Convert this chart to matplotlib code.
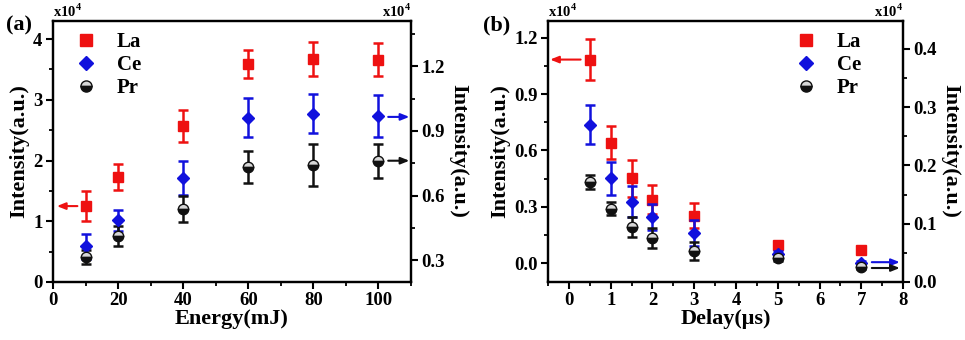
import matplotlib

matplotlib.use("Agg")
import matplotlib.pyplot as plt
from matplotlib.lines import Line2D
from matplotlib.ticker import FormatStrFormatter, MultipleLocator

# ---------------------------------------------------------------------------
# data: (a) intensity vs laser energy, (b) intensity vs delay
# La on the left axis, Ce / Pr on the right axis (both x10^4)
# ---------------------------------------------------------------------------
energy = [10, 20, 40, 60, 80, 100]
la_energy = [1.25, 1.73, 2.57, 3.59, 3.67, 3.66]
la_energy_err = [0.245, 0.22, 0.27, 0.23, 0.28, 0.27]
ce_energy = [0.365, 0.485, 0.68, 0.962, 0.98, 0.969]
ce_energy_err = [0.058, 0.048, 0.079, 0.091, 0.089, 0.098]
pr_energy = [0.315, 0.415, 0.538, 0.731, 0.742, 0.762]
pr_energy_err = [0.032, 0.046, 0.062, 0.074, 0.096, 0.079]

delay = [0.5, 1, 1.5, 2, 3, 5, 7]
la_delay = [1.084, 0.642, 0.451, 0.339, 0.253, 0.098, 0.068]
la_delay_err = [0.107, 0.089, 0.10, 0.075, 0.065, 0.015, 0.01]
ce_delay = [0.27, 0.178, 0.138, 0.112, 0.084, 0.048, 0.032]
ce_delay_err = [0.033, 0.028, 0.026, 0.022, 0.022, 0.006, 0.004]
pr_delay = [0.172, 0.126, 0.095, 0.076, 0.053, 0.042, 0.026]
pr_delay_err = [0.012, 0.011, 0.017, 0.017, 0.015, 0.006, 0.003]

labels = ["La", "Ce", "Pr"]

plt.rcParams["font.family"] = ["Liberation Serif", "DejaVu Serif"]
plt.rcParams["font.weight"] = "bold"
plt.rcParams["axes.labelweight"] = "bold"
plt.rcParams["mathtext.fontset"] = "custom"
plt.rcParams["mathtext.rm"] = "Liberation Serif:bold"
plt.rcParams["mathtext.bf"] = "Liberation Serif:bold"

RED = "#ee1111"
BLUE = "#1111dd"
BLACK = "#111111"

fig = plt.figure(figsize=(9.65, 3.4), dpi=100)
ax_a = fig.add_axes([0.0549, 0.1706, 0.371, 0.768])
ax_b = fig.add_axes([0.5679, 0.1706, 0.368, 0.768])


def style_axis(ax):
    for s in ax.spines.values():
        s.set_linewidth(1.6)
    ax.tick_params(which="major", direction="out", length=5, width=1.5, labelsize=13.5,
                   pad=2.5)
    ax.tick_params(which="minor", direction="out", length=3, width=1.3)
    ax.tick_params(top=False)


def draw(ax, ax2, x, la, la_err, ce, ce_err, pr, pr_err):
    ebkw = dict(linestyle="none", capsize=3.5, elinewidth=1.8, capthick=1.8, markersize=7.5)
    ax.errorbar(x, la, yerr=la_err, marker="s", color=RED, zorder=3, **ebkw)
    ax2.errorbar(x, ce, yerr=ce_err, marker="D", color=BLUE, markersize=6.5,
                 linestyle="none", capsize=3.5, elinewidth=1.8, capthick=1.8)
    ax2.errorbar(x, pr, yerr=pr_err, marker="o", color=BLACK, mec=BLACK,
                 fillstyle="top", mfc="#d8d8d8", mfcalt=BLACK, **ebkw)


def legend_handles():
    return [
        Line2D([], [], marker="s", color=RED, linestyle="none", markersize=8),
        Line2D([], [], marker="D", color=BLUE, linestyle="none", markersize=7),
        Line2D([], [], marker="o", color=BLACK, mec=BLACK, linestyle="none",
               fillstyle="top", mfc="#d8d8d8", mfcalt=BLACK, markersize=8),
    ]


def arrow(ax, x0, x1, y, color):
    ax.annotate("", xy=(x1, y), xytext=(x0, y),
                arrowprops=dict(arrowstyle="-|>,head_length=0.5,head_width=0.2",
                                color=color, lw=1.5, shrinkA=0, shrinkB=0))


# ---------------------------- panel (a) ----------------------------
ax_a2 = ax_a.twinx()
draw(ax_a, ax_a2, energy, la_energy, la_energy_err, ce_energy, ce_energy_err,
     pr_energy, pr_energy_err)
ax_a.set_xlim(0, 110)
ax_a.set_ylim(0, 4.3)
ax_a2.set_ylim(0.2, 1.41)
ax_a.xaxis.set_major_locator(MultipleLocator(20))
ax_a.xaxis.set_minor_locator(MultipleLocator(10))
ax_a.yaxis.set_major_locator(MultipleLocator(1))
ax_a.yaxis.set_minor_locator(MultipleLocator(0.5))
ax_a2.yaxis.set_major_locator(MultipleLocator(0.3))
ax_a2.yaxis.set_minor_locator(MultipleLocator(0.15))
for a in (ax_a, ax_a2):
    style_axis(a)
ax_a.set_xlabel("Energy(mJ)", fontsize=16, labelpad=0)
ax_a.set_ylabel("Intensity(a.u.)", fontsize=16, labelpad=3)
ax_a2.set_ylabel("Intensity(a.u.)", fontsize=16, rotation=270, labelpad=17)
arrow(ax_a, 7.5, 1.2, 1.25, RED)
arrow(ax_a2, 103, 109.5, 0.965, BLUE)
arrow(ax_a2, 103, 109.5, 0.762, BLACK)
ax_a.legend(legend_handles(), labels, loc="upper left", frameon=False,
            fontsize=15, handlelength=1.0, handletextpad=1.0, labelspacing=0.15,
            bbox_to_anchor=(0.01, 1.03))
ax_a.text(0.0, 1.005, "x10$^{\\mathbf{4}}$", transform=ax_a.transAxes, fontsize=10.5,
          ha="left", va="bottom")
ax_a.text(1.0, 1.005, "x10$^{\\mathbf{4}}$", transform=ax_a.transAxes, fontsize=10.5,
          ha="right", va="bottom")
fig.text(0.006, 0.91, "(a)", fontsize=16, fontweight="bold")

# ---------------------------- panel (b) ----------------------------
ax_b2 = ax_b.twinx()
draw(ax_b, ax_b2, delay, la_delay, la_delay_err, ce_delay, ce_delay_err,
     pr_delay, pr_delay_err)
ax_b.set_xlim(-0.5, 8)
ax_b.set_ylim(-0.1, 1.29)
ax_b2.set_ylim(0.0, 0.448)
ax_b.xaxis.set_major_locator(MultipleLocator(1))
ax_b.xaxis.set_minor_locator(MultipleLocator(0.5))
ax_b.yaxis.set_major_locator(MultipleLocator(0.3))
ax_b.yaxis.set_minor_locator(MultipleLocator(0.15))
ax_b2.yaxis.set_major_locator(MultipleLocator(0.1))
ax_b2.yaxis.set_minor_locator(MultipleLocator(0.05))
ax_b.yaxis.set_major_formatter(FormatStrFormatter("%.1f"))
ax_b2.yaxis.set_major_formatter(FormatStrFormatter("%.1f"))
for a in (ax_b, ax_b2):
    style_axis(a)
ax_b.set_xlabel("Delay(μs)", fontsize=16, labelpad=0)
ax_b.set_ylabel("Intensity(a.u.)", fontsize=16, labelpad=3)
ax_b2.set_ylabel("Intensity(a.u.)", fontsize=16, rotation=270, labelpad=17)
arrow(ax_b, 0.28, -0.45, 1.084, RED)
arrow(ax_b2, 7.25, 7.92, 0.034, BLUE)
arrow(ax_b2, 7.25, 7.92, 0.024, BLACK)
ax_b.legend(legend_handles(), labels, loc="upper right", frameon=False,
            fontsize=15, handlelength=1.0, handletextpad=1.0, labelspacing=0.15,
            bbox_to_anchor=(0.935, 1.03))
ax_b.text(0.0, 1.005, "x10$^{\\mathbf{4}}$", transform=ax_b.transAxes, fontsize=10.5,
          ha="left", va="bottom")
ax_b.text(1.0, 1.005, "x10$^{\\mathbf{4}}$", transform=ax_b.transAxes, fontsize=10.5,
          ha="right", va="bottom")
fig.text(0.5, 0.91, "(b)", fontsize=16, fontweight="bold")

fig.savefig("out.png", dpi=100)
